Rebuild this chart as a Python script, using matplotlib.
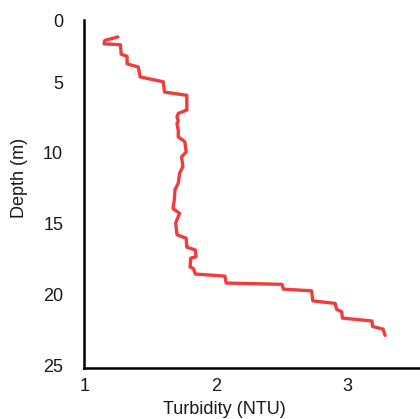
import matplotlib
matplotlib.use("Agg")
import matplotlib.pyplot as plt

plt.rcParams['font.family'] = ['Liberation Sans', 'DejaVu Sans']

# turbidity profile
turbidity = [1.25, 1.15, 1.145, 1.27, 1.275, 1.32, 1.32, 1.405, 1.42, 1.595,
             1.605, 1.775, 1.775, 1.71, 1.70, 1.71, 1.70, 1.71, 1.71, 1.76,
             1.77, 1.735, 1.745, 1.72, 1.71, 1.685, 1.68, 1.67, 1.72, 1.69,
             1.70, 1.77, 1.775, 1.84, 1.845, 1.805, 1.80, 1.825, 1.84, 2.065,
             2.075, 2.50, 2.51, 2.725, 2.735, 2.905, 2.915, 2.955, 2.96, 3.185,
             3.19, 3.27, 3.285]
depth = [1.79, 2.04, 2.28, 2.34, 3.01, 3.16, 3.69, 3.92, 4.62, 4.96,
         5.69, 5.92, 6.96, 7.20, 7.45, 7.74, 7.93, 8.42, 8.86, 9.20,
         9.93, 10.27, 10.96, 11.44, 12.13, 12.61, 13.30, 13.93, 14.27, 14.95,
         15.78, 16.03, 16.66, 16.86, 17.34, 17.44, 18.07, 18.17, 18.56, 18.71,
         19.20, 19.29, 19.63, 19.75, 20.46, 20.64, 21.05, 21.24, 21.68, 21.88,
         22.27, 22.46, 22.90]

x_ticks = [1, 2, 3]
y_ticks = [0.6, 5, 10, 15, 20, 25]
y_labels = ['0', '5', '10', '15', '20', '25']

fig = plt.figure(figsize=(4.2, 4.19), dpi=100)
ax = fig.add_axes([0.2, 0.122, 0.8, 0.83])

ax.plot(turbidity, depth, color='#f03c3c', linewidth=2.4,
        solid_joinstyle='round', solid_capstyle='round')

ax.set_xlim(0.992, 3.551)
ax.set_ylim(25.2, 0.6)
ax.set_xticks(x_ticks)
ax.set_yticks(y_ticks)
ax.set_yticklabels(y_labels)

for s in ['top', 'right']:
    ax.spines[s].set_visible(False)
for s in ['left', 'bottom']:
    ax.spines[s].set_linewidth(1.8)
    ax.spines[s].set_color('black')

ax.tick_params(axis='x', length=0, pad=7, labelsize=13, colors='#1a1a1a')
ax.tick_params(axis='y', length=0, pad=15, labelsize=13, colors='#1a1a1a')

ax.set_xlabel('Turbidity (NTU)', fontsize=13, color='#1a1a1a')
ax.set_ylabel('Depth (m)', fontsize=13, color='#1a1a1a')
ax.xaxis.set_label_coords(0.417, -0.095)
ax.yaxis.set_label_coords(-0.168, 0.546)

fig.savefig('out.png', dpi=100)
